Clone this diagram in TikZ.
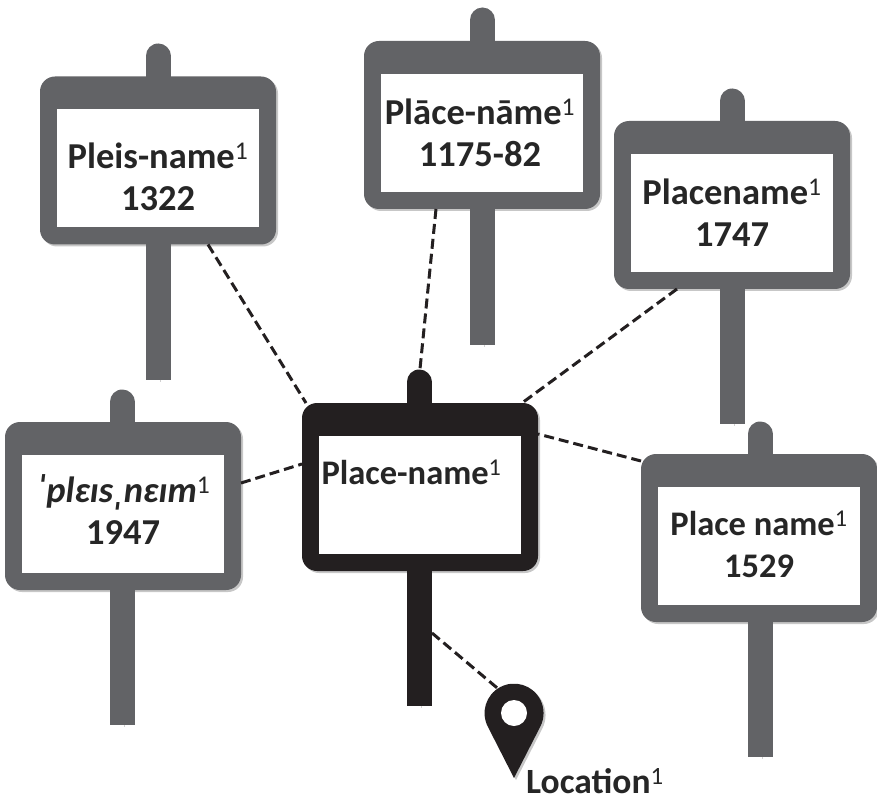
\documentclass[tikz,border=0pt]{standalone}
\usepackage{fontspec}
\setmainfont{Carlito}
\usetikzlibrary{shadows}
\definecolor{signgrey}{HTML}{626366}
\definecolor{signdark}{HTML}{231F20}
\definecolor{labelink}{HTML}{262626}
\newcommand{\sone}{\textsuperscript{\normalfont 1}}

\begin{document}
\begin{tikzpicture}[x=1pt,y=-1pt,
	board/.style={rectangle,rounded corners=15pt,minimum width=236pt,minimum height=168pt,inner sep=0pt,outer sep=0pt,fill=#1,
		drop shadow={shadow xshift=2pt,shadow yshift=-2pt,fill=black!22,opacity=1}},
	panel/.style={rectangle,fill=white,minimum width=202pt,minimum height=118pt,inner sep=0pt,outer sep=0pt},
	signlabel/.style={align=center,inner sep=0pt,text=labelink,font=\fontsize{36.5}{42}\selectfont\bfseries},
	smalllabel/.style={signlabel,font=\fontsize{34.5}{42}\selectfont\bfseries},
	posttop/.style={line width=25pt,line cap=round,draw=#1,preaction={draw=black!18,transform canvas={xshift=2pt,yshift=-2pt}}},
	postfoot/.style={line width=25pt,draw=#1,preaction={draw=black!18,transform canvas={xshift=2pt,yshift=-2pt}}},
	link/.style={line width=3pt,dash pattern=on 10pt off 5pt,draw=signdark}
	]
	\useasboundingbox (0,0) rectangle (877,799);

	% side signs
	\draw[posttop=signgrey] (158,80) -- (158,56);
	\node[board=signgrey] (pleis) at (158,160.5) {};
	\draw[postfoot=signgrey] (pleis.south) -- ++(0,135);
	\node[panel] (pleispanel) at ([yshift=-8pt]pleis.center) {};
	\node[signlabel] (pleistext) at ([yshift=-8pt]pleispanel.center) {Pleis-name\sone\\1322};

	\draw[posttop=signgrey] (482.5,45) -- (482.5,20);
	\node[board=signgrey] (plaace) at (482,125) {};
	\draw[postfoot=signgrey] ([xshift=.5pt]plaace.south) -- ++(0,136);
	\node[panel] (plaacepanel) at ([yshift=-8pt]plaace.center) {};
	\node[signlabel] (plaacetext) at ([xshift=-2pt]plaacepanel.center) {Plāce-nāme\sone\\1175-82};

	\draw[posttop=signgrey] (732,125) -- (732,101);
	\node[board=signgrey] (placename) at (732,205) {};
	\draw[postfoot=signgrey] (placename.south) -- ++(0,135);
	\node[panel] (placenamepanel) at ([yshift=-8pt]placename.center) {};
	\node[signlabel] (placenametext) at (placenamepanel.center) {Placename\sone\\1747};

	\draw[posttop=signgrey] (122,426) -- (122,402);
	\node[board=signgrey] (ipa) at (123,506) {};
	\draw[postfoot=signgrey] ([xshift=-1pt]ipa.south) -- ++(0,135);
	\node[panel] (ipapanel) at ([yshift=-8pt]ipa.center) {};
	\node[signlabel] (ipatext) at ([yshift=4pt]ipapanel.center) {\textit{ˈplɛɪsˌnɛɪm}\sone\\1947};

	\draw[posttop=signgrey] (760,458) -- (760,434);
	\node[board=signgrey] (placesp) at (759,538) {};
	\draw[postfoot=signgrey] ([xshift=1pt]placesp.south) -- ++(0,135);
	\node[panel] (placesppanel) at ([yshift=-8pt]placesp.center) {};
	\node[smalllabel] (placesptext) at ([yshift=2pt]placesppanel.center) {Place name\sone\\1529};

	% centre sign
	\draw[posttop=signdark] (419,407) -- (419,382);
	\node[board=signdark] (centre) at (420,487) {};
	\draw[postfoot=signdark] ([xshift=-1pt]centre.south) -- ++(0,135);
	\node[panel] (centrepanel) at ([yshift=-8pt]centre.center) {};
	\node[smalllabel] (centretext) at ([xshift=-8.5pt,yshift=23pt]centrepanel.center) {Place-name\sone};
	\coordinate (knob) at (420,369);
	\coordinate (stem) at (432,633);

	% location pin
	\fill[signdark,drop shadow={shadow xshift=2pt,shadow yshift=-2pt,fill=black!22,opacity=1}]
		(514,778) -- (488,727) arc[start angle=208,end angle=-28,radius=29.5pt] -- cycle;
	\node[circle,fill=white,minimum size=26pt,inner sep=0pt] (pin) at (514,713) {};
	\node[anchor=west,inner sep=0pt,text=labelink,font=\fontsize{35.5}{42}\selectfont\bfseries] (location) at (526,781) {Location\sone};

	% dashed links
	\draw[link] ([xshift=-68pt]pleis.south east) -- ([xshift=4pt]centre.north west);
	\draw[link] ([xshift=-46pt]plaace.south) -- (knob);
	\draw[link] ([xshift=-55pt]placename.south) -- ([xshift=-16pt]centre.north east);
	\draw[link] ([yshift=23pt]ipa.east) -- ([yshift=23pt]centre.west);
	\draw[link] ([yshift=77pt]placesp.west) -- ([yshift=53pt]centre.east);
	\draw[link] (stem) -- ([xshift=-17pt,yshift=12pt]pin.north);
\end{tikzpicture}
\end{document}
